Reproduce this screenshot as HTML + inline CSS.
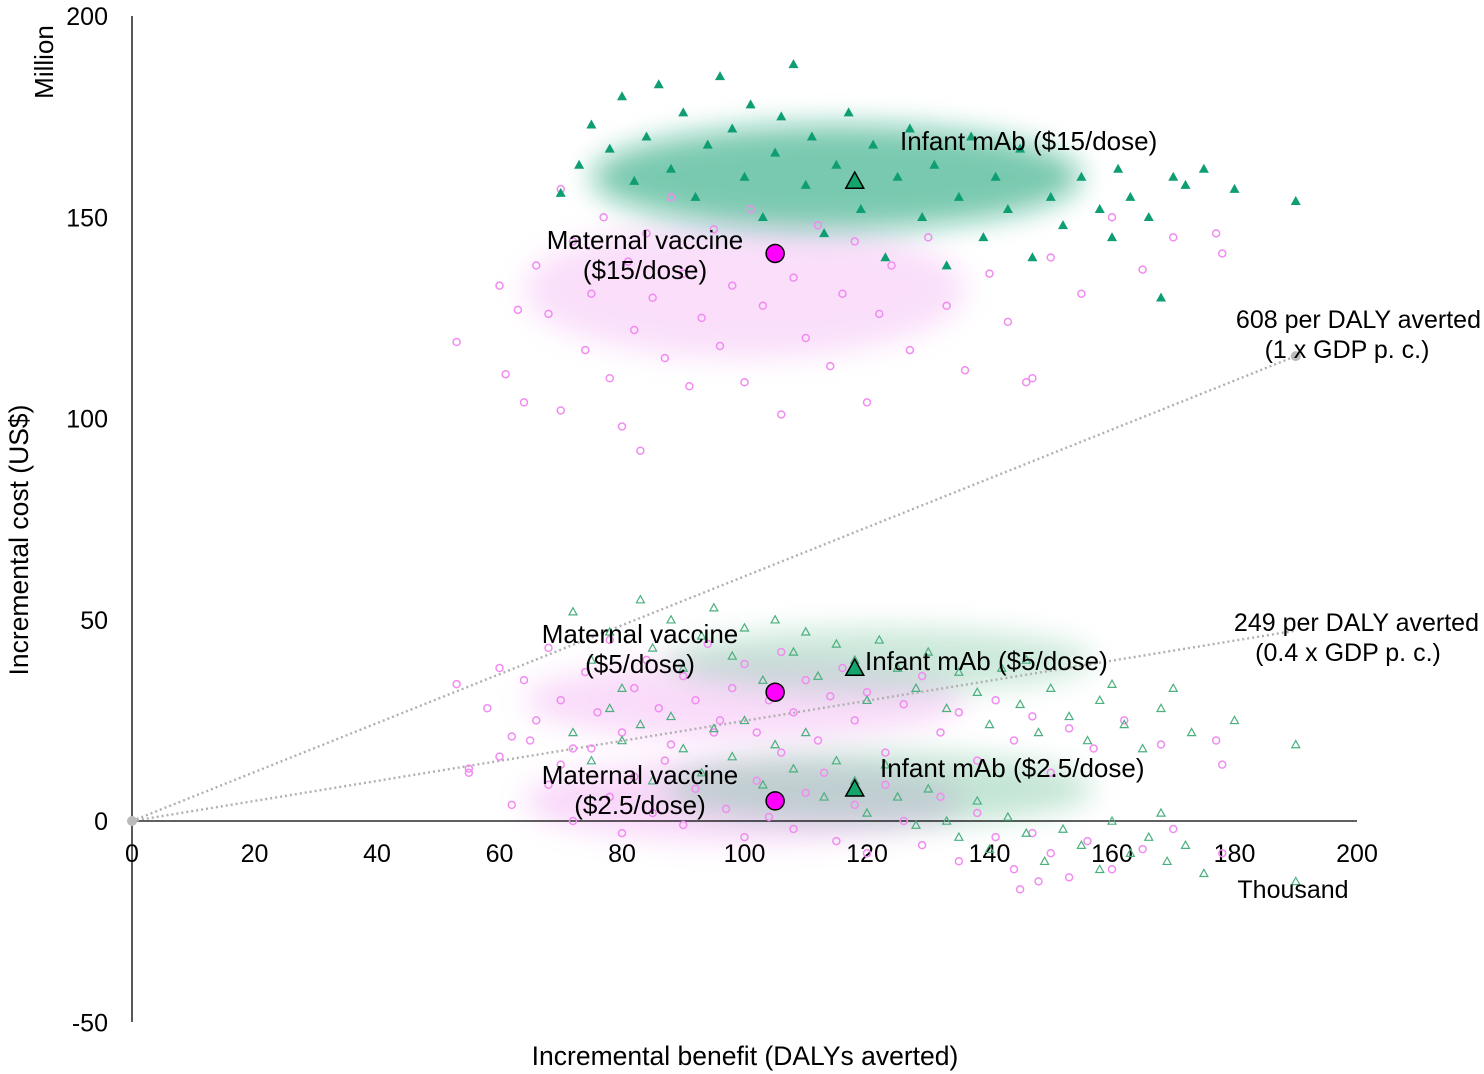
<!DOCTYPE html>
<html><head><meta charset="utf-8"><style>
body{margin:0;background:#fff;}
svg{display:block;font-family:"Liberation Sans",sans-serif;}
</style></head><body>
<svg id="chart" width="1484" height="1074" xmlns="http://www.w3.org/2000/svg">
<defs><filter id="blur" x="-50%" y="-50%" width="200%" height="200%"><feGaussianBlur stdDeviation="14"/></filter></defs>
</svg>
<script>
const xTicks=[0,20,40,60,80,100,120,140,160,180,200];
const yTicks=[-50,0,50,100,150,200];
const matern15=[[53,119],[60,133],[61,111],[63,127],[64,104],[66,138],[68,126],[70,102],[70,157],[72,144],[74,117],[75,131],[77,150],[78,110],[80,98],[81,139],[82,122],[83,92],[84,146],[85,130],[87,115],[88,155],[90,136],[91,108],[93,125],[95,147],[96,118],[98,133],[100,109],[101,152],[103,128],[105,140],[106,101],[108,135],[110,120],[112,148],[114,113],[116,131],[118,144],[120,104],[122,126],[124,138],[127,117],[130,145],[133,128],[136,112],[140,136],[143,124],[146,109],[150,140],[155,131],[160,150],[165,137],[170,145],[177,146],[178,141],[147,110]];
const infant15=[[70,156],[73,163],[75,173],[78,167],[80,180],[82,159],[84,170],[86,183],[88,162],[90,176],[92,155],[94,168],[96,185],[98,172],[100,160],[101,178],[103,150],[105,166],[106,175],[108,188],[110,158],[111,170],[113,146],[115,163],[117,176],[119,152],[121,168],[123,140],[125,160],[127,172],[129,150],[131,163],[133,138],[135,155],[137,170],[139,145],[141,160],[143,152],[145,167],[147,140],[150,155],[152,148],[155,160],[158,152],[160,145],[163,155],[166,150],[168,130],[170,160],[172,158],[180,157],[190,154],[161,162],[175,162]];
const matern5=[[53,34],[55,13],[58,28],[60,38],[62,21],[64,35],[66,25],[68,43],[70,30],[72,18],[74,37],[76,27],[78,45],[80,22],[82,33],[84,40],[86,28],[88,19],[90,36],[92,30],[94,44],[96,25],[98,33],[100,39],[102,22],[104,30],[106,42],[108,27],[110,35],[112,20],[114,31],[116,38],[118,25],[120,32],[123,17],[126,29],[129,36],[132,22],[135,27],[138,15],[141,30],[144,20],[147,26],[150,12],[153,23],[157,18],[162,25],[168,19],[177,20],[178,14]];
const infant5=[[72,52],[75,40],[78,47],[80,33],[83,55],[85,43],[88,50],[90,38],[93,46],[95,53],[98,41],[100,48],[103,35],[105,50],[108,42],[110,47],[112,36],[115,44],[118,40],[120,30],[122,45],[125,38],[128,33],[130,42],[133,28],[135,37],[138,32],[140,24],[142,38],[145,29],[148,22],[150,33],[153,26],[156,20],[158,30],[162,24],[165,18],[168,28],[170,33],[173,22],[180,25],[190,19],[160,34],[146,40]];
const matern25=[[55,12],[60,16],[62,4],[65,20],[68,9],[70,14],[72,0],[75,18],[78,6],[80,-3],[82,11],[85,2],[87,15],[90,-1],[92,8],[95,22],[97,3],[100,-4],[102,10],[104,1],[106,17],[108,-2],[110,7],[113,12],[115,-5],[118,4],[120,-8],[123,9],[126,0],[129,-6],[132,6],[135,-10],[138,2],[141,-4],[144,-12],[147,-3],[150,-8],[153,-14],[156,-5],[160,-12],[165,-7],[170,-2],[145,-17],[148,-15],[178,-8]];
const infant25=[[72,22],[75,15],[78,28],[80,20],[83,24],[85,10],[88,26],[90,18],[93,12],[95,23],[98,16],[100,25],[103,9],[105,19],[108,13],[110,22],[113,6],[115,15],[118,10],[120,2],[123,14],[125,6],[128,-1],[130,8],[133,0],[135,-4],[138,5],[140,-7],[143,1],[146,-3],[149,-10],[152,-2],[155,-6],[158,-12],[160,0],[163,-8],[166,-4],[169,-10],[172,-6],[175,-13],[190,-15],[168,2]];
const maternMeans=[[105,141],[105,32],[105,5]];
const infantMeans=[[118,159],[118,38],[118,8]];
const thresholds=[[190,115.5],[190,47.3]];

const X=v=>132+v*6.125, Y=v=>821-v*4.025;
const svg=document.getElementById('chart');
function el(t,a,txt){const e=document.createElementNS('http://www.w3.org/2000/svg',t);for(const k in a)e.setAttribute(k,a[k]);if(txt!==undefined)e.textContent=txt;svg.appendChild(e);return e;}
function tri(x,y,s){return `${x},${y-s} ${x-s},${y+s*0.8} ${x+s},${y+s*0.8}`;}

const shades=[[100,132,36,17,'#f4b8f4',0.45],[115,160,40,13,'#109e70',0.55],[100,30,36,10,'#f2a8f2',0.4],[122,40,35,8,'#6cc096',0.35],[100,5,36,10,'#f2a8f2',0.45],[122,8,35,9,'#6cc096',0.4]];
shades.forEach(s=>{const e=el('ellipse',{cx:X(s[0]),cy:Y(s[1]),rx:s[2]*6.125,ry:s[3]*4.025,fill:s[4],opacity:s[5],filter:'url(#blur)'});

});

let a=el('line',{x1:132,y1:16,x2:132,y2:1022,stroke:'#000','stroke-width':1.3});

a=el('line',{x1:132,y1:821,x2:1357,y2:821,stroke:'#000','stroke-width':1.3});

xTicks.forEach(t=>{const e=el('text',{x:X(t),y:862,'font-size':25,'text-anchor':'middle'},t);
});
yTicks.forEach(t=>{const e=el('text',{x:108,y:Y(t)+9,'font-size':25,'text-anchor':'end'},t);
});

thresholds.forEach(p=>{const e=el('line',{x1:X(0),y1:Y(0),x2:X(p[0]),y2:Y(p[1]),stroke:'#b0b0b0','stroke-width':2.4,'stroke-dasharray':'2,3'});
});

function circles(arr,name){arr.forEach(p=>{const e=el('circle',{cx:X(p[0]),cy:Y(p[1]),r:3.5,fill:'none',stroke:'#f08cf0','stroke-width':1.5});
});}
function tris(arr,name,filled){arr.forEach(p=>{const e=el('polygon',{points:tri(X(p[0]),Y(p[1]),4),fill:filled?'#0f9e74':'none',stroke:filled?'#0f9e74':'#4bb07e','stroke-width':1.2});
});}
circles(matern15,'maternal-15-point');circles(matern5,'maternal-5-point');circles(matern25,'maternal-2-5-point');
tris(infant15,'infant-15-point',true);tris(infant5,'infant-5-point',false);tris(infant25,'infant-2-5-point',false);

maternMeans.forEach(p=>{const e=el('circle',{cx:X(p[0]),cy:Y(p[1]),r:9,fill:'#ff00ff',stroke:'#000','stroke-width':1.5});
});
infantMeans.forEach(p=>{const e=el('polygon',{points:tri(X(p[0]),Y(p[1]),9),fill:'#13a56c',stroke:'#000','stroke-width':1.5});
});

let d=el('circle',{cx:X(0),cy:Y(0),r:5,fill:'#bbb'});
d=el('circle',{cx:X(thresholds[0][0]),cy:Y(thresholds[0][1]),r:5,fill:'#bbb'});

const labels=[[900,150,'Infant mAb ($15/dose)','start',26],[645,249,'Maternal vaccine','middle',26],[645,279,'($15/dose)','middle',26],
[1481,328,'608 per DALY averted','end',25],[1347,358,'(1 x GDP p. c.)','middle',25],
[640,643,'Maternal vaccine','middle',26],[640,673,'($5/dose)','middle',26],[865,670,'Infant mAb ($5/dose)','start',26],
[1479,631,'249 per DALY averted','end',25],[1348,661,'(0.4 x GDP p. c.)','middle',25],
[640,784,'Maternal vaccine','middle',26],[640,814,'($2.5/dose)','middle',26],[880,777,'Infant mAb ($2.5/dose)','start',26],
[1293,898,'Thousand','middle',25]];
labels.forEach(l=>{const e=el('text',{x:l[0],y:l[1],'font-size':l[4],'text-anchor':l[3]},l[2]);
});
let t=el('text',{x:745,y:1065,'font-size':26.5,'text-anchor':'middle'},'Incremental benefit (DALYs averted)');

t=el('text',{x:0,y:0,'font-size':26.5,'text-anchor':'middle',transform:'translate(28,540) rotate(-90)'},'Incremental cost (US$)');

t=el('text',{x:0,y:0,'font-size':26,'text-anchor':'middle',transform:'translate(53,62) rotate(-90)'},'Million');

</script>
</body></html>
